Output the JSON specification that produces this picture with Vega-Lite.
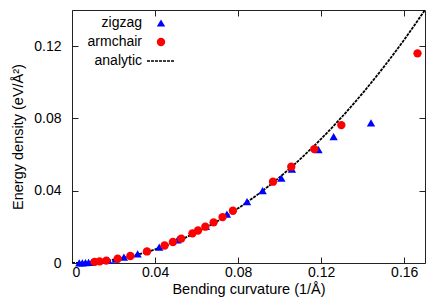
{
  "$schema": "https://vega.github.io/schema/vega-lite/v6.json",
  "width": 353,
  "height": 253,
  "autosize": {"type": "none"},
  "padding": {"left": 72, "top": 10, "right": 11, "bottom": 42},
  "background": "white",
  "config": {
    "font": "Liberation Sans",
    "view": {"stroke": "#222", "strokeWidth": 1},
    "axis": {
      "domain": false, "grid": false, "tickSize": -6, "tickColor": "#222", "tickWidth": 1,
      "labelFont": "Liberation Sans", "labelFontSize": 14, "labelColor": "#000",
      "titleFont": "Liberation Sans", "titleFontSize": 14.5, "titleFontWeight": "normal", "titleColor": "#000"
    }
  },
  "datasets": {
    "pts": [
      {"series": "zigzag", "x": 0.0035, "y": 0.00006},
      {"series": "zigzag", "x": 0.0050, "y": 0.0001},
      {"series": "zigzag", "x": 0.0065, "y": 0.0002},
      {"series": "zigzag", "x": 0.0080, "y": 0.0003},
      {"series": "zigzag", "x": 0.0095, "y": 0.0004},
      {"series": "zigzag", "x": 0.0175, "y": 0.0015},
      {"series": "zigzag", "x": 0.0210, "y": 0.0021},
      {"series": "zigzag", "x": 0.0250, "y": 0.0032},
      {"series": "zigzag", "x": 0.0316, "y": 0.0050},
      {"series": "zigzag", "x": 0.0420, "y": 0.0088},
      {"series": "zigzag", "x": 0.0508, "y": 0.0128},
      {"series": "zigzag", "x": 0.0645, "y": 0.0203},
      {"series": "zigzag", "x": 0.0746, "y": 0.0270},
      {"series": "zigzag", "x": 0.0843, "y": 0.0340},
      {"series": "zigzag", "x": 0.0918, "y": 0.0400},
      {"series": "zigzag", "x": 0.1008, "y": 0.0470},
      {"series": "zigzag", "x": 0.1059, "y": 0.0520},
      {"series": "zigzag", "x": 0.1187, "y": 0.0628},
      {"series": "zigzag", "x": 0.1260, "y": 0.0699},
      {"series": "zigzag", "x": 0.1440, "y": 0.0776},
      {"series": "armchair", "x": 0.0109, "y": 0.0006},
      {"series": "armchair", "x": 0.0133, "y": 0.0009},
      {"series": "armchair", "x": 0.0165, "y": 0.0013},
      {"series": "armchair", "x": 0.0220, "y": 0.0024},
      {"series": "armchair", "x": 0.0281, "y": 0.0039},
      {"series": "armchair", "x": 0.0361, "y": 0.0064},
      {"series": "armchair", "x": 0.0446, "y": 0.0097},
      {"series": "armchair", "x": 0.0486, "y": 0.0116},
      {"series": "armchair", "x": 0.0526, "y": 0.0135},
      {"series": "armchair", "x": 0.0580, "y": 0.0164},
      {"series": "armchair", "x": 0.0607, "y": 0.0180},
      {"series": "armchair", "x": 0.0642, "y": 0.0201},
      {"series": "armchair", "x": 0.0682, "y": 0.0225},
      {"series": "armchair", "x": 0.0725, "y": 0.0254},
      {"series": "armchair", "x": 0.0775, "y": 0.0289},
      {"series": "armchair", "x": 0.0968, "y": 0.0450},
      {"series": "armchair", "x": 0.1056, "y": 0.0533},
      {"series": "armchair", "x": 0.1167, "y": 0.0630},
      {"series": "armchair", "x": 0.1297, "y": 0.0763},
      {"series": "armchair", "x": 0.1664, "y": 0.1160}
    ],
    "curve": [
      {"series": "analytic", "x": 0.000, "y": 0.0},
      {"series": "analytic", "x": 0.010, "y": 0.00047},
      {"series": "analytic", "x": 0.020, "y": 0.00188},
      {"series": "analytic", "x": 0.030, "y": 0.00423},
      {"series": "analytic", "x": 0.040, "y": 0.00753},
      {"series": "analytic", "x": 0.050, "y": 0.01178},
      {"series": "analytic", "x": 0.060, "y": 0.01698},
      {"series": "analytic", "x": 0.070, "y": 0.02315},
      {"series": "analytic", "x": 0.080, "y": 0.03028},
      {"series": "analytic", "x": 0.090, "y": 0.0384},
      {"series": "analytic", "x": 0.100, "y": 0.0475},
      {"series": "analytic", "x": 0.110, "y": 0.0576},
      {"series": "analytic", "x": 0.120, "y": 0.06872},
      {"series": "analytic", "x": 0.130, "y": 0.08086},
      {"series": "analytic", "x": 0.140, "y": 0.09404},
      {"series": "analytic", "x": 0.150, "y": 0.10828},
      {"series": "analytic", "x": 0.160, "y": 0.1236},
      {"series": "analytic", "x": 0.170, "y": 0.14001}
    ]
  },
  "layer": [
    {
      "data": {"name": "curve"},
      "mark": {"type": "line", "strokeWidth": 1.8, "clip": true, "interpolate": "monotone"},
      "encoding": {
        "x": {"field": "x", "type": "quantitative", "scale": {"domain": [0, 0.17], "nice": false, "zero": false},
              "axis": {"orient": "bottom", "values": [0, 0.04, 0.08, 0.12, 0.16], "labelPadding": 8, "labelExpr": "datum.value === 0 ? '0' : format(datum.value, '.2f')", "title": "Bending curvature (1/Å)", "titlePadding": 3}},
        "y": {"field": "y", "type": "quantitative", "scale": {"domain": [0, 0.14], "nice": false, "zero": false},
              "axis": {"orient": "left", "values": [0, 0.04, 0.08, 0.12], "labelPadding": 17, "labelExpr": "datum.value === 0 ? '0' : format(datum.value, '.2f')", "title": "Energy density (eV/Å²)", "titlePadding": 8}},
        "color": {"field": "series", "type": "nominal",
                  "scale": {"domain": ["zigzag", "armchair", "analytic"], "range": ["#0000ff", "#ff0000", "#000000"]},
                  "legend": {"title": null, "orient": "none", "legendX": 89, "legendY": 6, "padding": 0, "rowPadding": 5,
                             "labelFontSize": 14, "labelFont": "Liberation Sans", "labelColor": "#000",
                             "encode": {
                               "symbols": {"update": {
                                 "x": {"value": 0},
                                 "shape": {"signal": "datum.value === 'zigzag' ? 'triangle-up' : datum.value === 'armchair' ? 'circle' : 'stroke'"},
                                 "size": {"signal": "datum.value === 'analytic' ? 784 : 70"},
                                 "fill": {"signal": "datum.value === 'zigzag' ? '#0000ff' : datum.value === 'armchair' ? '#ff0000' : 'transparent'"},
                                 "stroke": {"signal": "datum.value === 'analytic' ? '#000' : 'transparent'"},
                                 "strokeWidth": {"signal": "datum.value === 'analytic' ? 1.6 : 0"},
                                 "strokeDash": {"signal": "datum.value === 'analytic' ? [3, 1] : [1, 0]"},
                                 "opacity": {"value": 1}
                               }},
                               "labels": {"update": {
                                 "x": {"value": -19},
                                 "align": {"value": "right"}
                               }}
                             }}},
        "strokeDash": {"field": "series", "type": "nominal",
                       "scale": {"domain": ["zigzag", "armchair", "analytic"], "range": [[1, 0], [1, 0], [3, 1]]},
                       "legend": null}
      }
    },
    {
      "data": {"name": "pts"},
      "mark": {"type": "point", "filled": true, "opacity": 1, "size": 70},
      "encoding": {
        "x": {"field": "x", "type": "quantitative",
              "axis": {"orient": "top", "values": [0, 0.04, 0.08, 0.12, 0.16], "labels": false, "title": null}},
        "y": {"field": "y", "type": "quantitative",
              "axis": {"orient": "right", "values": [0, 0.04, 0.08, 0.12], "labels": false, "title": null}},
        "color": {"field": "series", "type": "nominal"},
        "shape": {"field": "series", "type": "nominal",
                  "scale": {"domain": ["zigzag", "armchair", "analytic"], "range": ["triangle-up", "circle", "stroke"]},
                  "legend": null}
      }
    }
  ],
  "resolve": {"axis": {"x": "independent", "y": "independent"}}
}
